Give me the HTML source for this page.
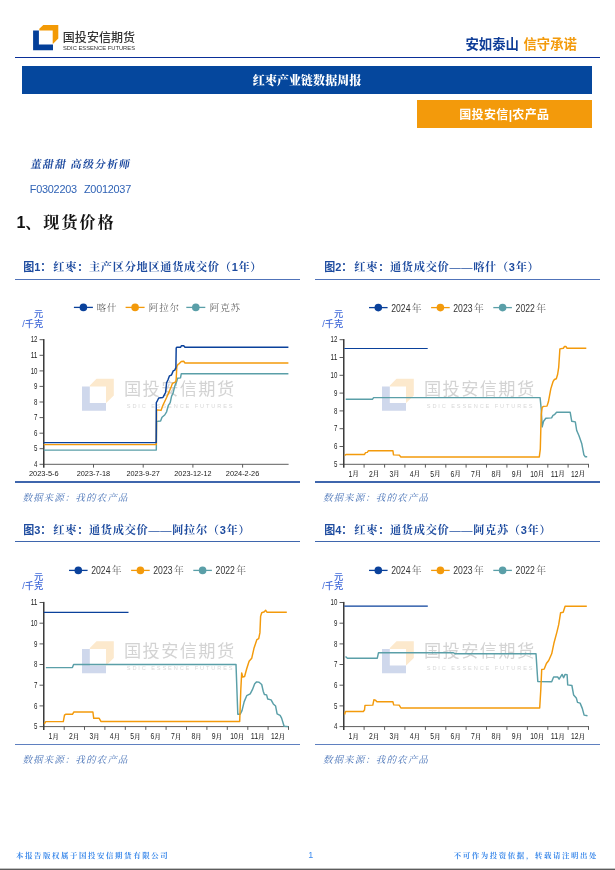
<!DOCTYPE html>
<html lang="zh-CN">
<head>
<meta charset="utf-8">
<title>红枣产业链数据周报</title>
<style>
html,body{margin:0;padding:0;background:#fff;}
body{width:615px;height:870px;position:relative;overflow:hidden;font-family:"Liberation Sans","Noto Sans CJK SC",sans-serif;}
.abs{position:absolute;white-space:nowrap;line-height:1;}
.kai{font-family:"Liberation Serif","Noto Serif CJK SC",serif;}
.sans{font-family:"Liberation Sans","Noto Sans CJK SC",sans-serif;}
.figt{color:#1d4b9f;font-weight:bold;font-size:11.2px;letter-spacing:0.7px;}
.figt b.d{margin-right:0;letter-spacing:0.7px;}
.figt b{margin-right:2px;font-family:"Liberation Sans","Noto Sans CJK SC",sans-serif;font-weight:bold;letter-spacing:0;font-size:11px;}
.hr{position:absolute;height:1.2px;background:#4a76ba;}
.src{color:#4a74b8;font-size:9.6px;letter-spacing:1px;font-style:italic;}
.foot{color:#3a88ea;font-size:7.4px;letter-spacing:1.62px;font-weight:700;}
</style>
</head>
<body>
<!-- header logo -->
<svg class="abs" style="left:0;top:0" width="160" height="56" viewBox="0 0 160 56">
<polygon points="33.1,30.6 38.9,30.6 38.9,44.6 53,44.6 53,50.2 33.1,50.2" fill="#033f99"/>
<polygon points="39.3,30.5 39.3,28.8 43.3,24.9 58.3,24.9 58.3,38.5 53.1,43.7 52.7,43.7 52.7,30.5" fill="#f39a05"/>
<text x="62.8" y="42.3" font-size="12" font-weight="500" fill="#333" letter-spacing="0.05" font-family="'Liberation Sans','Noto Sans CJK SC',sans-serif">国投安信期货</text>
<text x="63" y="49.9" font-size="5.5" fill="#333" textLength="72" lengthAdjust="spacingAndGlyphs" font-family="'Liberation Sans',sans-serif">SDIC ESSENCE FUTURES</text>
</svg>
<div class="abs sans" style="left:465.5px;top:37.5px;font-size:13.35px;font-weight:bold;color:#0e3c97;letter-spacing:0px;">安如泰山<span style="color:#f39a0b;margin-left:4.6px;">信守承诺</span></div>
<div style="position:absolute;left:15px;top:56.8px;width:585px;height:1.35px;background:#0a2f98;"></div>
<div style="position:absolute;left:22px;top:66px;width:570.2px;height:28px;background:#05479d;"></div>
<div class="abs kai" style="left:22px;width:570.2px;top:74.8px;text-align:center;font-size:12px;font-weight:900;color:#fff;letter-spacing:0.05px;">红枣产业链数据周报</div>
<div style="position:absolute;left:416.5px;top:99.7px;width:175.7px;height:28.3px;background:#f39a0b;"></div>
<div class="abs sans" style="left:416.5px;width:175.7px;top:108.5px;text-align:center;font-size:12px;letter-spacing:0.35px;font-weight:bold;color:#fff;">国投安信|农产品</div>

<div class="abs kai" style="left:29.6px;top:158.6px;font-size:10.8px;font-weight:bold;color:#1d4a9f;letter-spacing:1.25px;transform:skewX(-9deg);transform-origin:0 100%;">董甜甜 高级分析师</div>
<div class="abs sans" style="left:29.8px;top:183.6px;font-size:10.9px;color:#2f62b5;letter-spacing:-0.25px;word-spacing:4.3px;">F0302203 Z0012037</div>
<div class="abs kai" style="left:16.4px;top:215.4px;font-size:16px;font-weight:bold;color:#111;letter-spacing:2.05px;"><span class="sans" style="font-size:16px;letter-spacing:0;">1</span>、现货价格</div>

<div class="abs kai figt" style="left:23.2px;top:262.2px;"><b>图1：</b>红枣：主产区分地区通货成交价（<b class="d">1</b>年）</div>
<div class="hr" style="left:15px;top:278.85px;width:285px;background:#5073b9;"></div>
<div class="abs kai figt" style="left:324.2px;top:262.2px;"><b>图2：</b>红枣：通货成交价——喀什（<b class="d">3</b>年）</div>
<div class="hr" style="left:315.1px;top:278.85px;width:285px;background:#5073b9;"></div>
<div class="hr" style="left:15px;top:481px;width:285px;height:1.6px;background:#3f66ad;"></div>
<div class="hr" style="left:315.1px;top:481px;width:285px;height:1.6px;background:#3f66ad;"></div>
<div class="abs kai src" style="left:22.4px;top:492.8px;">数据来源：我的农产品</div>
<div class="abs kai src" style="left:322.9px;top:492.8px;">数据来源：我的农产品</div>

<div class="abs kai figt" style="left:23.2px;top:524.8px;"><b>图3：</b>红枣：通货成交价——阿拉尔（<b class="d">3</b>年）</div>
<div class="hr" style="left:15px;top:540.85px;width:285px;height:1.6px;background:#3f66ad;"></div>
<div class="abs kai figt" style="left:324.2px;top:524.8px;"><b>图4：</b>红枣：通货成交价——阿克苏（<b class="d">3</b>年）</div>
<div class="hr" style="left:315.1px;top:540.85px;width:285px;height:1.6px;background:#3f66ad;"></div>
<div class="hr" style="left:15px;top:743.8px;width:285px;background:#5f80c0;"></div>
<div class="hr" style="left:315.1px;top:743.8px;width:285px;background:#5f80c0;"></div>
<div class="abs kai src" style="left:22.4px;top:755.2px;">数据来源：我的农产品</div>
<div class="abs kai src" style="left:322.9px;top:755.2px;">数据来源：我的农产品</div>

<div class="abs kai foot" style="left:16px;top:852.4px;">本报告版权属于国投安信期货有限公司</div>
<div class="abs sans" style="left:308.2px;top:850.9px;font-size:9px;color:#3d8cf0;">1</div>
<div class="abs kai foot" style="left:453.8px;top:852.4px;">不可作为投资依据，转载请注明出处</div>
<div style="position:absolute;left:0;top:868px;width:615px;height:1px;background:#c0c0c0;"></div>
<div style="position:absolute;left:0;top:869px;width:615px;height:1px;background:#5c5c5c;"></div>
<svg width="615" height="870" viewBox="0 0 615 870" style="position:absolute;left:0;top:0">
<g transform="translate(0.0,0.0)">
<polygon points="89.8,386.6 89.8,385.4 96.5,378.8 113.8,378.8 113.8,395.4 106.4,402.7 106,402.7 106,386.6" fill="#fce9cd"/>
<polygon points="82,386.6 89.8,386.6 89.8,403 106,403 106,410.7 82,410.7" fill="#cfd8ec"/>
<text x="124" y="394.6" font-size="17.2" letter-spacing="1.4" fill="#d3d3d3" font-family="'Liberation Sans','Noto Sans CJK SC',sans-serif" font-weight="400">国投安信期货</text>
<text x="126.8" y="407.8" font-size="5.6" letter-spacing="1.9" fill="#d8d8d8" font-family="'Liberation Sans',sans-serif">SDIC ESSENCE FUTURES</text>
</g>
<g fill="none">
<path d="M43.75 464.3 H288.6" stroke="#5e5e5e" stroke-width="1"/>
<path d="M43.75 464.3 h-4.2 M43.75 448.7 h-4.2 M43.75 433.2 h-4.2 M43.75 417.6 h-4.2 M43.75 402.0 h-4.2 M43.75 386.4 h-4.2 M43.75 370.9 h-4.2 M43.75 355.3 h-4.2 M43.75 339.7 h-4.2 M93.5 464.3 v3.3 M143.2 464.3 v3.3 M192.9 464.3 v3.3 M242.6 464.3 v3.3 " stroke="#4a4a4a" stroke-width="0.9"/>
<path d="M43.75 339.1 V467.7" stroke="#3c3c3c" stroke-width="1.55"/>
</g>
<g font-family="'Liberation Sans',sans-serif" font-size="8.4" fill="#222">
<text x="34.1" y="467.0" textLength="3.4" lengthAdjust="spacingAndGlyphs">4</text>
<text x="34.1" y="451.4" textLength="3.4" lengthAdjust="spacingAndGlyphs">5</text>
<text x="34.1" y="435.9" textLength="3.4" lengthAdjust="spacingAndGlyphs">6</text>
<text x="34.1" y="420.3" textLength="3.4" lengthAdjust="spacingAndGlyphs">7</text>
<text x="34.1" y="404.7" textLength="3.4" lengthAdjust="spacingAndGlyphs">8</text>
<text x="34.1" y="389.1" textLength="3.4" lengthAdjust="spacingAndGlyphs">9</text>
<text x="30.7" y="373.6" textLength="6.8" lengthAdjust="spacingAndGlyphs">10</text>
<text x="30.7" y="358.0" textLength="6.8" lengthAdjust="spacingAndGlyphs">11</text>
<text x="30.7" y="342.4" textLength="6.8" lengthAdjust="spacingAndGlyphs">12</text>
</g>
<g font-family="'Liberation Sans',sans-serif" font-size="7.9" fill="#222">
<text x="28.9" y="476.4" textLength="29.8" lengthAdjust="spacingAndGlyphs">2023-5-6</text>
<text x="76.7" y="476.4" textLength="33.5" lengthAdjust="spacingAndGlyphs">2023-7-18</text>
<text x="126.4" y="476.4" textLength="33.5" lengthAdjust="spacingAndGlyphs">2023-9-27</text>
<text x="174.3" y="476.4" textLength="37.2" lengthAdjust="spacingAndGlyphs">2023-12-12</text>
<text x="225.8" y="476.4" textLength="33.5" lengthAdjust="spacingAndGlyphs">2024-2-26</text>
</g>
<g font-family="'Liberation Sans','Noto Sans CJK SC',sans-serif" font-size="9.2" font-weight="500" fill="#3f68d8" text-anchor="end"><text x="43.2" y="317.4">元</text><text x="43.2" y="326.6">/千克</text></g>
<path d="M73.9 307.4 H92.9" stroke="#0a419b" stroke-width="1.3"/>
<circle cx="83.4" cy="307.4" r="3.8" fill="#0a419b"/>
<text x="96.6" y="310.9" font-size="9.5" letter-spacing="0.85" font-weight="300" fill="#4a4a4a" font-family="'Liberation Serif','Noto Serif CJK SC',serif">喀什</text>
<path d="M125.6 307.4 H144.6" stroke="#f39a0b" stroke-width="1.3"/>
<circle cx="135.1" cy="307.4" r="3.8" fill="#f39a0b"/>
<text x="148.8" y="310.9" font-size="9.5" letter-spacing="0.85" font-weight="300" fill="#4a4a4a" font-family="'Liberation Serif','Noto Serif CJK SC',serif">阿拉尔</text>
<path d="M186.3 307.4 H205.3" stroke="#5a9fa8" stroke-width="1.3"/>
<circle cx="195.8" cy="307.4" r="3.8" fill="#5a9fa8"/>
<text x="209.8" y="310.9" font-size="9.5" letter-spacing="0.85" font-weight="300" fill="#4a4a4a" font-family="'Liberation Serif','Noto Serif CJK SC',serif">阿克苏</text>
<polyline points="43.7,450.1 156.3,450.1 156.6,421.5 157.2,421.4 160.6,421.0 162.0,417.3 164.7,415.0 166.6,411.8 168.4,405.3 170.2,402.6 171.6,396.1 173.0,393.4 174.8,386.0 176.7,381.4 177.6,378.2 180.5,377.9 181.3,373.7 288.4,373.7" fill="none" stroke="#5a9fa8" stroke-width="1.45" stroke-linejoin="round" stroke-linecap="butt"/>
<polyline points="43.7,444.6 156.3,444.6 156.6,410.0 157.4,409.9 161.0,410.4 162.9,405.3 166.6,397.5 168.4,393.4 171.1,387.0 172.5,383.3 175.7,381.9 176.2,379.0 176.8,366.8 178.0,364.4 179.3,363.6 181.3,361.5 183.7,361.3 185.0,363.0 288.4,363.0" fill="none" stroke="#f39a0b" stroke-width="1.45" stroke-linejoin="round" stroke-linecap="butt"/>
<polyline points="43.7,442.6 156.2,442.6 156.3,402.6 156.9,401.7 158.7,398.0 162.9,397.5 164.3,394.8 165.6,392.5 166.6,382.8 167.9,380.0 169.5,375.8 171.5,375.0 173.2,370.9 174.8,370.1 175.9,367.6 176.2,347.9 176.8,347.3 180.5,347.3 181.5,345.7 183.7,345.7 185.0,347.3 288.4,347.3" fill="none" stroke="#0a419b" stroke-width="1.45" stroke-linejoin="round" stroke-linecap="butt"/>
<g transform="translate(300.0,0.0)">
<polygon points="89.8,386.6 89.8,385.4 96.5,378.8 113.8,378.8 113.8,395.4 106.4,402.7 106,402.7 106,386.6" fill="#fce9cd"/>
<polygon points="82,386.6 89.8,386.6 89.8,403 106,403 106,410.7 82,410.7" fill="#cfd8ec"/>
<text x="124" y="394.6" font-size="17.2" letter-spacing="1.4" fill="#d3d3d3" font-family="'Liberation Sans','Noto Sans CJK SC',sans-serif" font-weight="400">国投安信期货</text>
<text x="126.8" y="407.8" font-size="5.6" letter-spacing="1.9" fill="#d8d8d8" font-family="'Liberation Sans',sans-serif">SDIC ESSENCE FUTURES</text>
</g>
<g fill="none">
<path d="M343.75 464.3 H589.0" stroke="#5e5e5e" stroke-width="1"/>
<path d="M343.75 464.3 h-4.2 M343.75 446.5 h-4.2 M343.75 428.7 h-4.2 M343.75 410.9 h-4.2 M343.75 393.1 h-4.2 M343.75 375.3 h-4.2 M343.75 357.5 h-4.2 M343.75 339.7 h-4.2 M364.1 464.3 v3.3 M384.6 464.3 v3.3 M404.9 464.3 v3.3 M425.4 464.3 v3.3 M445.8 464.3 v3.3 M466.1 464.3 v3.3 M486.5 464.3 v3.3 M506.9 464.3 v3.3 M527.4 464.3 v3.3 M547.8 464.3 v3.3 M568.1 464.3 v3.3 M588.5 464.3 v3.3 " stroke="#4a4a4a" stroke-width="0.9"/>
<path d="M343.75 339.1 V467.7" stroke="#3c3c3c" stroke-width="1.55"/>
</g>
<g font-family="'Liberation Sans',sans-serif" font-size="8.4" fill="#222">
<text x="334.1" y="467.0" textLength="3.4" lengthAdjust="spacingAndGlyphs">5</text>
<text x="334.1" y="449.2" textLength="3.4" lengthAdjust="spacingAndGlyphs">6</text>
<text x="334.1" y="431.4" textLength="3.4" lengthAdjust="spacingAndGlyphs">7</text>
<text x="334.1" y="413.6" textLength="3.4" lengthAdjust="spacingAndGlyphs">8</text>
<text x="334.1" y="395.8" textLength="3.4" lengthAdjust="spacingAndGlyphs">9</text>
<text x="330.6" y="378.0" textLength="6.8" lengthAdjust="spacingAndGlyphs">10</text>
<text x="330.6" y="360.2" textLength="6.8" lengthAdjust="spacingAndGlyphs">11</text>
<text x="330.6" y="342.4" textLength="6.8" lengthAdjust="spacingAndGlyphs">12</text>
</g>
<g font-size="8.2" fill="#222" font-family="'Liberation Sans','Noto Serif CJK SC',serif">
<text x="348.6" y="476.5"><tspan textLength="3.8" lengthAdjust="spacingAndGlyphs">1</tspan><tspan font-size="6.6" fill="#2a2a2a" dx="-0.1" dy="-0.1" font-weight="600">月</tspan></text>
<text x="369.0" y="476.5"><tspan textLength="3.8" lengthAdjust="spacingAndGlyphs">2</tspan><tspan font-size="6.6" fill="#2a2a2a" dx="-0.1" dy="-0.1" font-weight="600">月</tspan></text>
<text x="389.4" y="476.5"><tspan textLength="3.8" lengthAdjust="spacingAndGlyphs">3</tspan><tspan font-size="6.6" fill="#2a2a2a" dx="-0.1" dy="-0.1" font-weight="600">月</tspan></text>
<text x="409.8" y="476.5"><tspan textLength="3.8" lengthAdjust="spacingAndGlyphs">4</tspan><tspan font-size="6.6" fill="#2a2a2a" dx="-0.1" dy="-0.1" font-weight="600">月</tspan></text>
<text x="430.2" y="476.5"><tspan textLength="3.8" lengthAdjust="spacingAndGlyphs">5</tspan><tspan font-size="6.6" fill="#2a2a2a" dx="-0.1" dy="-0.1" font-weight="600">月</tspan></text>
<text x="450.6" y="476.5"><tspan textLength="3.8" lengthAdjust="spacingAndGlyphs">6</tspan><tspan font-size="6.6" fill="#2a2a2a" dx="-0.1" dy="-0.1" font-weight="600">月</tspan></text>
<text x="471.0" y="476.5"><tspan textLength="3.8" lengthAdjust="spacingAndGlyphs">7</tspan><tspan font-size="6.6" fill="#2a2a2a" dx="-0.1" dy="-0.1" font-weight="600">月</tspan></text>
<text x="491.4" y="476.5"><tspan textLength="3.8" lengthAdjust="spacingAndGlyphs">8</tspan><tspan font-size="6.6" fill="#2a2a2a" dx="-0.1" dy="-0.1" font-weight="600">月</tspan></text>
<text x="511.8" y="476.5"><tspan textLength="3.8" lengthAdjust="spacingAndGlyphs">9</tspan><tspan font-size="6.6" fill="#2a2a2a" dx="-0.1" dy="-0.1" font-weight="600">月</tspan></text>
<text x="530.3" y="476.5"><tspan textLength="7.5" lengthAdjust="spacingAndGlyphs">10</tspan><tspan font-size="6.6" fill="#2a2a2a" dx="-0.1" dy="-0.1" font-weight="600">月</tspan></text>
<text x="550.8" y="476.5"><tspan textLength="7.5" lengthAdjust="spacingAndGlyphs">11</tspan><tspan font-size="6.6" fill="#2a2a2a" dx="-0.1" dy="-0.1" font-weight="600">月</tspan></text>
<text x="571.1" y="476.5"><tspan textLength="7.5" lengthAdjust="spacingAndGlyphs">12</tspan><tspan font-size="6.6" fill="#2a2a2a" dx="-0.1" dy="-0.1" font-weight="600">月</tspan></text>
</g>
<g font-family="'Liberation Sans','Noto Sans CJK SC',sans-serif" font-size="9.2" font-weight="500" fill="#3f68d8" text-anchor="end"><text x="343.2" y="317.4">元</text><text x="343.2" y="326.6">/千克</text></g>
<path d="M369.0 307.6 H387.6" stroke="#0a419b" stroke-width="1.3"/>
<circle cx="378.3" cy="307.6" r="3.8" fill="#0a419b"/>
<text x="391.2" y="311.5" font-size="10.8" fill="#333" font-family="'Liberation Sans','Noto Serif CJK SC',sans-serif"><tspan textLength="19.3" lengthAdjust="spacingAndGlyphs">2024</tspan><tspan dx="1.3" font-size="9.8" fill="#666">年</tspan></text>
<path d="M431.1 307.6 H449.7" stroke="#f39a0b" stroke-width="1.3"/>
<circle cx="440.4" cy="307.6" r="3.8" fill="#f39a0b"/>
<text x="453.3" y="311.5" font-size="10.8" fill="#333" font-family="'Liberation Sans','Noto Serif CJK SC',sans-serif"><tspan textLength="19.3" lengthAdjust="spacingAndGlyphs">2023</tspan><tspan dx="1.3" font-size="9.8" fill="#666">年</tspan></text>
<path d="M493.3 307.6 H511.9" stroke="#5a9fa8" stroke-width="1.3"/>
<circle cx="502.6" cy="307.6" r="3.8" fill="#5a9fa8"/>
<text x="515.6" y="311.5" font-size="10.8" fill="#333" font-family="'Liberation Sans','Noto Serif CJK SC',sans-serif"><tspan textLength="19.3" lengthAdjust="spacingAndGlyphs">2022</tspan><tspan dx="1.3" font-size="9.8" fill="#666">年</tspan></text>
<polyline points="345.7,399.3 372.4,399.3 373.6,397.6 540.1,397.6 541.2,409.0 542.2,426.9 543.6,421.2 545.8,418.3 551.6,417.9 553.0,415.4 554.4,414.7 556.6,412.3 570.2,412.3 571.7,421.2 575.3,421.9 576.7,430.5 578.9,435.5 581.7,443.4 583.9,454.9 585.3,456.7 587.2,456.7" fill="none" stroke="#5a9fa8" stroke-width="1.45" stroke-linejoin="round" stroke-linecap="butt"/>
<polyline points="344.6,455.4 346.3,454.4 364.5,454.4 365.6,452.6 367.3,452.4 368.5,450.7 392.9,450.7 393.5,454.9 399.2,455.1 400.9,456.9 539.3,456.9 540.3,449.2 541.2,414.7 542.2,407.5 543.2,406.4 547.0,406.1 548.4,401.8 550.8,388.9 553.0,381.7 554.4,379.5 556.3,378.8 557.6,374.5 558.7,367.3 559.9,348.9 563.3,348.3 564.5,346.5 565.9,346.5 567.1,348.3 586.3,348.3" fill="none" stroke="#f39a0b" stroke-width="1.45" stroke-linejoin="round" stroke-linecap="butt"/>
<polyline points="344.3,348.5 427.7,348.5" fill="none" stroke="#0a419b" stroke-width="1.2" stroke-linejoin="round" stroke-linecap="butt"/>
<g transform="translate(0.0,262.5)">
<polygon points="89.8,386.6 89.8,385.4 96.5,378.8 113.8,378.8 113.8,395.4 106.4,402.7 106,402.7 106,386.6" fill="#fce9cd"/>
<polygon points="82,386.6 89.8,386.6 89.8,403 106,403 106,410.7 82,410.7" fill="#cfd8ec"/>
<text x="124" y="394.6" font-size="17.2" letter-spacing="1.4" fill="#d3d3d3" font-family="'Liberation Sans','Noto Sans CJK SC',sans-serif" font-weight="400">国投安信期货</text>
<text x="126.8" y="407.8" font-size="5.6" letter-spacing="1.9" fill="#d8d8d8" font-family="'Liberation Sans',sans-serif">SDIC ESSENCE FUTURES</text>
</g>
<g fill="none">
<path d="M43.75 726.6 H289.0" stroke="#5e5e5e" stroke-width="1"/>
<path d="M43.75 726.6 h-4.2 M43.75 705.9 h-4.2 M43.75 685.2 h-4.2 M43.75 664.5 h-4.2 M43.75 643.9 h-4.2 M43.75 623.2 h-4.2 M43.75 602.5 h-4.2 M64.2 726.6 v3.3 M84.5 726.6 v3.3 M104.9 726.6 v3.3 M125.3 726.6 v3.3 M145.8 726.6 v3.3 M166.1 726.6 v3.3 M186.5 726.6 v3.3 M206.9 726.6 v3.3 M227.3 726.6 v3.3 M247.8 726.6 v3.3 M268.1 726.6 v3.3 M288.5 726.6 v3.3 " stroke="#4a4a4a" stroke-width="0.9"/>
<path d="M43.75 601.9 V730.0" stroke="#3c3c3c" stroke-width="1.55"/>
</g>
<g font-family="'Liberation Sans',sans-serif" font-size="8.4" fill="#222">
<text x="34.1" y="729.3" textLength="3.4" lengthAdjust="spacingAndGlyphs">5</text>
<text x="34.1" y="708.6" textLength="3.4" lengthAdjust="spacingAndGlyphs">6</text>
<text x="34.1" y="687.9" textLength="3.4" lengthAdjust="spacingAndGlyphs">7</text>
<text x="34.1" y="667.2" textLength="3.4" lengthAdjust="spacingAndGlyphs">8</text>
<text x="34.1" y="646.6" textLength="3.4" lengthAdjust="spacingAndGlyphs">9</text>
<text x="30.7" y="625.9" textLength="6.8" lengthAdjust="spacingAndGlyphs">10</text>
<text x="30.7" y="605.2" textLength="6.8" lengthAdjust="spacingAndGlyphs">11</text>
</g>
<g font-size="8.2" fill="#222" font-family="'Liberation Sans','Noto Serif CJK SC',serif">
<text x="48.6" y="738.8"><tspan textLength="3.8" lengthAdjust="spacingAndGlyphs">1</tspan><tspan font-size="6.6" fill="#2a2a2a" dx="-0.1" dy="-0.1" font-weight="600">月</tspan></text>
<text x="69.0" y="738.8"><tspan textLength="3.8" lengthAdjust="spacingAndGlyphs">2</tspan><tspan font-size="6.6" fill="#2a2a2a" dx="-0.1" dy="-0.1" font-weight="600">月</tspan></text>
<text x="89.4" y="738.8"><tspan textLength="3.8" lengthAdjust="spacingAndGlyphs">3</tspan><tspan font-size="6.6" fill="#2a2a2a" dx="-0.1" dy="-0.1" font-weight="600">月</tspan></text>
<text x="109.8" y="738.8"><tspan textLength="3.8" lengthAdjust="spacingAndGlyphs">4</tspan><tspan font-size="6.6" fill="#2a2a2a" dx="-0.1" dy="-0.1" font-weight="600">月</tspan></text>
<text x="130.2" y="738.8"><tspan textLength="3.8" lengthAdjust="spacingAndGlyphs">5</tspan><tspan font-size="6.6" fill="#2a2a2a" dx="-0.1" dy="-0.1" font-weight="600">月</tspan></text>
<text x="150.6" y="738.8"><tspan textLength="3.8" lengthAdjust="spacingAndGlyphs">6</tspan><tspan font-size="6.6" fill="#2a2a2a" dx="-0.1" dy="-0.1" font-weight="600">月</tspan></text>
<text x="171.0" y="738.8"><tspan textLength="3.8" lengthAdjust="spacingAndGlyphs">7</tspan><tspan font-size="6.6" fill="#2a2a2a" dx="-0.1" dy="-0.1" font-weight="600">月</tspan></text>
<text x="191.4" y="738.8"><tspan textLength="3.8" lengthAdjust="spacingAndGlyphs">8</tspan><tspan font-size="6.6" fill="#2a2a2a" dx="-0.1" dy="-0.1" font-weight="600">月</tspan></text>
<text x="211.8" y="738.8"><tspan textLength="3.8" lengthAdjust="spacingAndGlyphs">9</tspan><tspan font-size="6.6" fill="#2a2a2a" dx="-0.1" dy="-0.1" font-weight="600">月</tspan></text>
<text x="230.3" y="738.8"><tspan textLength="7.5" lengthAdjust="spacingAndGlyphs">10</tspan><tspan font-size="6.6" fill="#2a2a2a" dx="-0.1" dy="-0.1" font-weight="600">月</tspan></text>
<text x="250.7" y="738.8"><tspan textLength="7.5" lengthAdjust="spacingAndGlyphs">11</tspan><tspan font-size="6.6" fill="#2a2a2a" dx="-0.1" dy="-0.1" font-weight="600">月</tspan></text>
<text x="271.1" y="738.8"><tspan textLength="7.5" lengthAdjust="spacingAndGlyphs">12</tspan><tspan font-size="6.6" fill="#2a2a2a" dx="-0.1" dy="-0.1" font-weight="600">月</tspan></text>
</g>
<g font-family="'Liberation Sans','Noto Sans CJK SC',sans-serif" font-size="9.2" font-weight="500" fill="#3f68d8" text-anchor="end"><text x="43.2" y="579.8">元</text><text x="43.2" y="589.0">/千克</text></g>
<path d="M69.0 570.4 H87.6" stroke="#0a419b" stroke-width="1.3"/>
<circle cx="78.3" cy="570.4" r="3.8" fill="#0a419b"/>
<text x="91.2" y="574.3" font-size="10.8" fill="#333" font-family="'Liberation Sans','Noto Serif CJK SC',sans-serif"><tspan textLength="19.3" lengthAdjust="spacingAndGlyphs">2024</tspan><tspan dx="1.3" font-size="9.8" fill="#666">年</tspan></text>
<path d="M131.1 570.4 H149.7" stroke="#f39a0b" stroke-width="1.3"/>
<circle cx="140.4" cy="570.4" r="3.8" fill="#f39a0b"/>
<text x="153.3" y="574.3" font-size="10.8" fill="#333" font-family="'Liberation Sans','Noto Serif CJK SC',sans-serif"><tspan textLength="19.3" lengthAdjust="spacingAndGlyphs">2023</tspan><tspan dx="1.3" font-size="9.8" fill="#666">年</tspan></text>
<path d="M193.3 570.4 H211.9" stroke="#5a9fa8" stroke-width="1.3"/>
<circle cx="202.6" cy="570.4" r="3.8" fill="#5a9fa8"/>
<text x="215.6" y="574.3" font-size="10.8" fill="#333" font-family="'Liberation Sans','Noto Serif CJK SC',sans-serif"><tspan textLength="19.3" lengthAdjust="spacingAndGlyphs">2022</tspan><tspan dx="1.3" font-size="9.8" fill="#666">年</tspan></text>
<polyline points="45.9,667.6 72.4,667.6 73.6,664.5 236.0,664.4 237.8,714.3 240.2,714.3 242.0,710.6 244.2,701.6 246.7,695.7 250.2,693.9 252.4,689.7 254.7,683.7 256.6,681.9 259.1,682.2 261.7,684.5 263.2,691.2 264.4,694.5 266.6,694.9 267.7,699.0 271.1,699.9 273.3,703.9 275.6,706.1 277.1,713.9 280.1,715.4 281.6,718.1 284.1,726.3 288.3,726.6" fill="none" stroke="#5a9fa8" stroke-width="1.45" stroke-linejoin="round" stroke-linecap="butt"/>
<polyline points="44.3,724.0 45.7,721.6 63.3,721.6 64.5,715.1 65.6,714.3 72.4,714.3 73.9,712.0 92.9,712.0 93.7,718.3 99.2,718.3 100.9,721.4 239.7,721.4 240.8,689.7 241.7,672.9 242.7,677.0 244.6,676.5 246.7,668.8 249.1,661.3 251.7,658.3 253.9,648.6 256.9,639.6 258.7,638.6 259.9,632.9 260.6,616.4 261.7,612.7 264.4,611.7 265.6,610.2 267.1,612.3 286.8,612.3" fill="none" stroke="#f39a0b" stroke-width="1.45" stroke-linejoin="round" stroke-linecap="butt"/>
<polyline points="43.7,612.4 128.5,612.4" fill="none" stroke="#0a419b" stroke-width="1.2" stroke-linejoin="round" stroke-linecap="butt"/>
<g transform="translate(300.0,262.5)">
<polygon points="89.8,386.6 89.8,385.4 96.5,378.8 113.8,378.8 113.8,395.4 106.4,402.7 106,402.7 106,386.6" fill="#fce9cd"/>
<polygon points="82,386.6 89.8,386.6 89.8,403 106,403 106,410.7 82,410.7" fill="#cfd8ec"/>
<text x="124" y="394.6" font-size="17.2" letter-spacing="1.4" fill="#d3d3d3" font-family="'Liberation Sans','Noto Sans CJK SC',sans-serif" font-weight="400">国投安信期货</text>
<text x="126.8" y="407.8" font-size="5.6" letter-spacing="1.9" fill="#d8d8d8" font-family="'Liberation Sans',sans-serif">SDIC ESSENCE FUTURES</text>
</g>
<g fill="none">
<path d="M343.75 726.6 H589.0" stroke="#5e5e5e" stroke-width="1"/>
<path d="M343.75 726.6 h-4.2 M343.75 705.9 h-4.2 M343.75 685.2 h-4.2 M343.75 664.5 h-4.2 M343.75 643.9 h-4.2 M343.75 623.2 h-4.2 M343.75 602.5 h-4.2 M364.1 726.6 v3.3 M384.6 726.6 v3.3 M404.9 726.6 v3.3 M425.4 726.6 v3.3 M445.8 726.6 v3.3 M466.1 726.6 v3.3 M486.5 726.6 v3.3 M506.9 726.6 v3.3 M527.4 726.6 v3.3 M547.8 726.6 v3.3 M568.1 726.6 v3.3 M588.5 726.6 v3.3 " stroke="#4a4a4a" stroke-width="0.9"/>
<path d="M343.75 601.9 V730.0" stroke="#3c3c3c" stroke-width="1.55"/>
</g>
<g font-family="'Liberation Sans',sans-serif" font-size="8.4" fill="#222">
<text x="334.1" y="729.3" textLength="3.4" lengthAdjust="spacingAndGlyphs">4</text>
<text x="334.1" y="708.6" textLength="3.4" lengthAdjust="spacingAndGlyphs">5</text>
<text x="334.1" y="687.9" textLength="3.4" lengthAdjust="spacingAndGlyphs">6</text>
<text x="334.1" y="667.2" textLength="3.4" lengthAdjust="spacingAndGlyphs">7</text>
<text x="334.1" y="646.6" textLength="3.4" lengthAdjust="spacingAndGlyphs">8</text>
<text x="334.1" y="625.9" textLength="3.4" lengthAdjust="spacingAndGlyphs">9</text>
<text x="330.6" y="605.2" textLength="6.8" lengthAdjust="spacingAndGlyphs">10</text>
</g>
<g font-size="8.2" fill="#222" font-family="'Liberation Sans','Noto Serif CJK SC',serif">
<text x="348.6" y="738.8"><tspan textLength="3.8" lengthAdjust="spacingAndGlyphs">1</tspan><tspan font-size="6.6" fill="#2a2a2a" dx="-0.1" dy="-0.1" font-weight="600">月</tspan></text>
<text x="369.0" y="738.8"><tspan textLength="3.8" lengthAdjust="spacingAndGlyphs">2</tspan><tspan font-size="6.6" fill="#2a2a2a" dx="-0.1" dy="-0.1" font-weight="600">月</tspan></text>
<text x="389.4" y="738.8"><tspan textLength="3.8" lengthAdjust="spacingAndGlyphs">3</tspan><tspan font-size="6.6" fill="#2a2a2a" dx="-0.1" dy="-0.1" font-weight="600">月</tspan></text>
<text x="409.8" y="738.8"><tspan textLength="3.8" lengthAdjust="spacingAndGlyphs">4</tspan><tspan font-size="6.6" fill="#2a2a2a" dx="-0.1" dy="-0.1" font-weight="600">月</tspan></text>
<text x="430.2" y="738.8"><tspan textLength="3.8" lengthAdjust="spacingAndGlyphs">5</tspan><tspan font-size="6.6" fill="#2a2a2a" dx="-0.1" dy="-0.1" font-weight="600">月</tspan></text>
<text x="450.6" y="738.8"><tspan textLength="3.8" lengthAdjust="spacingAndGlyphs">6</tspan><tspan font-size="6.6" fill="#2a2a2a" dx="-0.1" dy="-0.1" font-weight="600">月</tspan></text>
<text x="471.0" y="738.8"><tspan textLength="3.8" lengthAdjust="spacingAndGlyphs">7</tspan><tspan font-size="6.6" fill="#2a2a2a" dx="-0.1" dy="-0.1" font-weight="600">月</tspan></text>
<text x="491.4" y="738.8"><tspan textLength="3.8" lengthAdjust="spacingAndGlyphs">8</tspan><tspan font-size="6.6" fill="#2a2a2a" dx="-0.1" dy="-0.1" font-weight="600">月</tspan></text>
<text x="511.8" y="738.8"><tspan textLength="3.8" lengthAdjust="spacingAndGlyphs">9</tspan><tspan font-size="6.6" fill="#2a2a2a" dx="-0.1" dy="-0.1" font-weight="600">月</tspan></text>
<text x="530.3" y="738.8"><tspan textLength="7.5" lengthAdjust="spacingAndGlyphs">10</tspan><tspan font-size="6.6" fill="#2a2a2a" dx="-0.1" dy="-0.1" font-weight="600">月</tspan></text>
<text x="550.8" y="738.8"><tspan textLength="7.5" lengthAdjust="spacingAndGlyphs">11</tspan><tspan font-size="6.6" fill="#2a2a2a" dx="-0.1" dy="-0.1" font-weight="600">月</tspan></text>
<text x="571.1" y="738.8"><tspan textLength="7.5" lengthAdjust="spacingAndGlyphs">12</tspan><tspan font-size="6.6" fill="#2a2a2a" dx="-0.1" dy="-0.1" font-weight="600">月</tspan></text>
</g>
<g font-family="'Liberation Sans','Noto Sans CJK SC',sans-serif" font-size="9.2" font-weight="500" fill="#3f68d8" text-anchor="end"><text x="343.2" y="579.8">元</text><text x="343.2" y="589.0">/千克</text></g>
<path d="M369.0 570.4 H387.6" stroke="#0a419b" stroke-width="1.3"/>
<circle cx="378.3" cy="570.4" r="3.8" fill="#0a419b"/>
<text x="391.2" y="574.3" font-size="10.8" fill="#333" font-family="'Liberation Sans','Noto Serif CJK SC',sans-serif"><tspan textLength="19.3" lengthAdjust="spacingAndGlyphs">2024</tspan><tspan dx="1.3" font-size="9.8" fill="#666">年</tspan></text>
<path d="M431.1 570.4 H449.7" stroke="#f39a0b" stroke-width="1.3"/>
<circle cx="440.4" cy="570.4" r="3.8" fill="#f39a0b"/>
<text x="453.3" y="574.3" font-size="10.8" fill="#333" font-family="'Liberation Sans','Noto Serif CJK SC',sans-serif"><tspan textLength="19.3" lengthAdjust="spacingAndGlyphs">2023</tspan><tspan dx="1.3" font-size="9.8" fill="#666">年</tspan></text>
<path d="M493.3 570.4 H511.9" stroke="#5a9fa8" stroke-width="1.3"/>
<circle cx="502.6" cy="570.4" r="3.8" fill="#5a9fa8"/>
<text x="515.6" y="574.3" font-size="10.8" fill="#333" font-family="'Liberation Sans','Noto Serif CJK SC',sans-serif"><tspan textLength="19.3" lengthAdjust="spacingAndGlyphs">2022</tspan><tspan dx="1.3" font-size="9.8" fill="#666">年</tspan></text>
<polyline points="345.5,656.5 347.4,658.2 377.3,658.2 378.5,652.7 453.0,652.7 455.6,653.8 536.0,653.8 537.8,681.5 551.7,681.8 553.6,677.0 557.7,677.0 559.1,679.2 562.1,674.4 563.6,677.7 565.1,674.4 567.1,674.7 567.7,684.9 571.9,685.5 573.6,694.9 576.3,697.9 577.5,702.4 580.1,703.1 582.3,708.4 584.1,715.1 587.5,715.8" fill="none" stroke="#5a9fa8" stroke-width="1.45" stroke-linejoin="round" stroke-linecap="butt"/>
<polyline points="344.6,714.5 345.5,711.5 363.3,711.5 364.5,710.0 365.0,705.4 372.8,705.1 373.9,699.8 375.3,700.1 377.0,701.7 392.9,701.7 393.7,704.9 399.2,705.1 400.9,708.0 539.7,707.9 540.8,689.7 541.7,669.5 544.2,669.1 546.4,663.5 548.7,660.5 551.7,653.8 553.9,643.3 556.9,632.1 558.7,624.7 560.6,612.7 563.2,612.3 565.1,606.3 586.8,606.3" fill="none" stroke="#f39a0b" stroke-width="1.45" stroke-linejoin="round" stroke-linecap="butt"/>
<polyline points="344.3,606.1 427.8,606.1" fill="none" stroke="#0a419b" stroke-width="1.2" stroke-linejoin="round" stroke-linecap="butt"/>
</svg>
</body>
</html>
